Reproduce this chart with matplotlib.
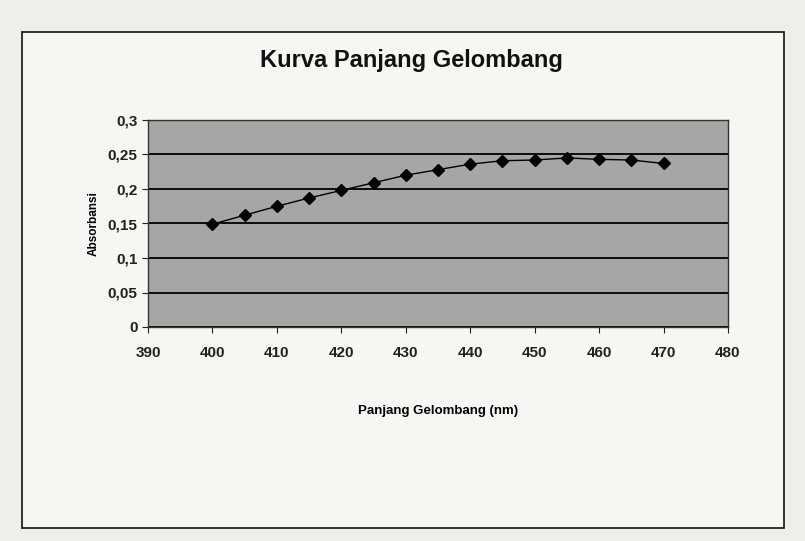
import matplotlib.pyplot as plt
from matplotlib.patches import Rectangle

# data
panjang_gelombang = [400, 405, 410, 415, 420, 425, 430, 435, 440, 445, 450, 455, 460, 465, 470]
absorbansi = [0.149, 0.162, 0.175, 0.187, 0.198, 0.209, 0.220, 0.228, 0.236, 0.241,
              0.242, 0.245, 0.243, 0.242, 0.237]
x_ticks = [390, 400, 410, 420, 430, 440, 450, 460, 470, 480]
y_ticks = [0, 0.05, 0.1, 0.15, 0.2, 0.25, 0.3]
y_labels = ["0", "0,05", "0,1", "0,15", "0,2", "0,25", "0,3"]

plt.rcParams["font.family"] = ["Liberation Sans", "DejaVu Sans"]

fig = plt.figure(figsize=(8.05, 5.41), dpi=100)
fig.patch.set_facecolor("#eeeeec")

# outer chart box as in the scanned page
fig.patches.append(Rectangle((22 / 805, 1 - 528 / 541), 762 / 805, 496 / 541,
                             transform=fig.transFigure, facecolor="#f6f6f4",
                             edgecolor="#222222", linewidth=1.3, zorder=-1))

ax = fig.add_axes([148 / 805, 1 - 327 / 541, 580 / 805, 207 / 541])
ax.set_zorder(2)
ax.set_facecolor("#a6a6a6")
ax.plot(panjang_gelombang, absorbansi, color="black", linewidth=1.0,
        marker="D", markersize=6, zorder=3)

ax.set_xlim(390, 480)
ax.set_ylim(0, 0.3)
ax.set_xticks(x_ticks)
ax.set_yticks(y_ticks)
ax.set_yticklabels(y_labels)
ax.yaxis.grid(True, color="black", linewidth=1.3)
ax.set_axisbelow(True)
for s in ax.spines.values():
    s.set_color("#333333")
    s.set_linewidth(1.0)

ax.tick_params(axis="both", labelsize=11, colors="#222222", length=4)
ax.tick_params(axis="x", pad=10)
for lbl in ax.get_xticklabels() + ax.get_yticklabels():
    lbl.set_fontweight("bold")

ax.set_xlabel("Panjang Gelombang (nm)", fontsize=9.5, fontweight="bold", labelpad=32)
ax.set_ylabel("Absorbansi", fontsize=8.5, fontweight="bold", labelpad=6)
fig.text(411 / 805, 1 - 60 / 541, "Kurva Panjang Gelombang", ha="center", va="center",
         fontsize=17, fontweight="bold", color="#111111")

plt.savefig("out.png", dpi=100, facecolor=fig.get_facecolor())
